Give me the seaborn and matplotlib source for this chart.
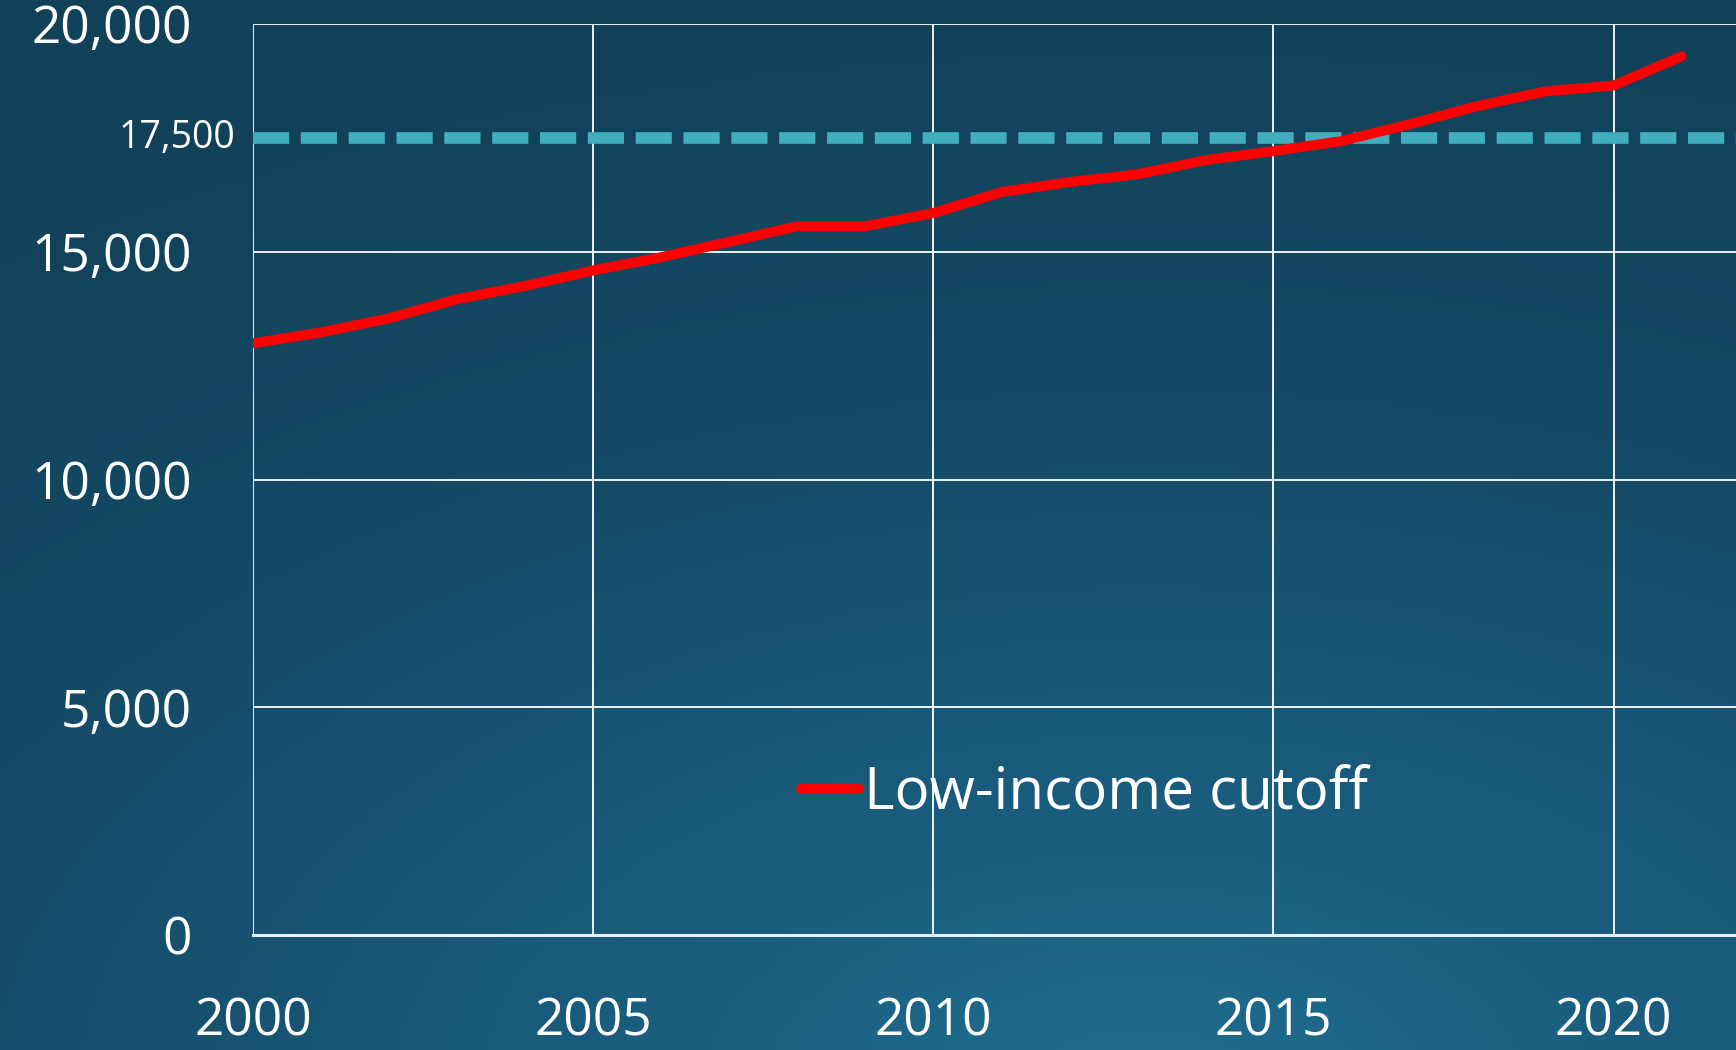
import numpy as np
import pandas as pd
import matplotlib
matplotlib.use("Agg")
import matplotlib.pyplot as plt
from matplotlib.colors import LinearSegmentedColormap
from matplotlib.ticker import FuncFormatter
import seaborn as sns

# Low-income cutoff by year
years = [2000, 2001, 2002, 2003, 2004, 2005, 2006, 2007, 2008, 2009, 2010,
         2011, 2012, 2013, 2014, 2015, 2016, 2017, 2018, 2019, 2020, 2021]
cutoff = [12990, 13230, 13540, 13960, 14250, 14590, 14880, 15220, 15560, 15560, 15850,
          16310, 16530, 16700, 17010, 17210, 17430, 17800, 18200, 18520, 18650, 19290]
threshold = 17500
threshold_label = "17,500"
series_label = "Low-income cutoff"
x_ticks = [2000, 2005, 2010, 2015, 2020]
y_ticks = [0, 5000, 10000, 15000, 20000]

df = pd.DataFrame({"year": years, "cutoff": cutoff, "series": series_label})

sns.set_theme(style="white")
plt.rcParams["font.family"] = ["Open Sans", "DejaVu Sans"]

W, H = 1736, 1050
fig = plt.figure(figsize=(W / 100, H / 100), dpi=100)

# Background: radial gradient, lighter toward the lower middle
bg = fig.add_axes([0, 0, 1, 1], zorder=0)
bg.set_axis_off()
gx, gy = np.meshgrid(np.linspace(0, 1, 400), np.linspace(0, 1, 240))
dist = np.sqrt(((gx - 0.66) * 1.0) ** 2 + ((gy - 1.05) * 1.1) ** 2)
dist = np.clip(dist / 1.15, 0, 1)
cmap_bg = LinearSegmentedColormap.from_list(
    "bg", ["#1f6e8f", "#19597a", "#144a64", "#12425a"])
bg.imshow(dist, cmap=cmap_bg, aspect="auto", extent=[0, 1, 0, 1],
          origin="upper", vmin=0, vmax=1)
bg.set_xlim(0, 1)
bg.set_ylim(0, 1)

left, bottom = 253 / W, (H - 935) / H
ax = fig.add_axes([left, bottom, 1 - left, 911 / H], zorder=1)
ax.set_facecolor("none")

ax.set_xlim(2000, 2021.8)
ax.set_ylim(0, 20000)
ax.set_xticks(x_ticks)
ax.set_yticks(y_ticks)
ax.grid(True, color="white", linewidth=1.3)
ax.set_axisbelow(True)
for side in ["top", "right", "left"]:
    ax.spines[side].set_visible(False)
ax.spines["bottom"].set_color("#e8f0f4")
ax.spines["bottom"].set_linewidth(2.2)
ax.spines["bottom"].set_zorder(3)

# Threshold line
ax.axhline(threshold, color="#41aebe", linewidth=8.4, dashes=(3.1, 1.0),
           solid_capstyle="butt", dash_capstyle="butt", zorder=2)

# Cutoff series
sns.lineplot(data=df, x="year", y="cutoff", hue="series", palette=["#ff0000"],
             linewidth=7.2, ax=ax, zorder=4)
for line in ax.get_lines():
    if line.get_label() == series_label or line.get_color() == "#ff0000":
        line.set_solid_capstyle("round")
        line.set_solid_joinstyle("round")

ax.yaxis.set_major_formatter(FuncFormatter(lambda v, p: f"{int(v):,}"))
ax.tick_params(axis="y", colors="white", labelsize=37, length=0, pad=44)
ax.tick_params(axis="x", colors="white", labelsize=37, length=0, pad=44)
ax.set_xlabel("")
ax.set_ylabel("")

# Secondary label for the threshold line
ax.text(-0.012, threshold, threshold_label, transform=ax.get_yaxis_transform(),
        ha="right", va="center", color="white", fontsize=27)

leg = ax.legend(loc="center left", bbox_to_anchor=(801 / W, 1 - 794 / H),
                bbox_transform=fig.transFigure, frameon=False, fontsize=42,
                handlelength=1.0, handletextpad=0.08, borderpad=0,
                borderaxespad=0)
for t in leg.get_texts():
    t.set_color("white")
for h in leg.legend_handles:
    h.set_linewidth(7.2)
    h.set_solid_capstyle("round")

fig.savefig("out.png", dpi=100)
